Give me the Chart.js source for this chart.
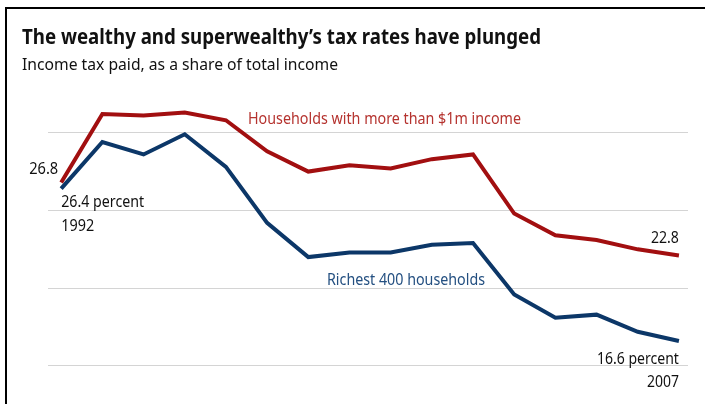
<!DOCTYPE html>
<html>
<head>
<meta charset="utf-8">
<script src="https://cdn.jsdelivr.net/npm/chart.js@4.4.0/dist/chart.umd.min.js"></script>
<style>
  html, body { margin: 0; padding: 0; background: #fff; }
  #wrap { position: relative; width: 705px; height: 404px; }
  #frame { position: absolute; left: 5px; top: 7px; right: 0; bottom: 0;
           border-left: 2.5px solid #000; border-top: 2.5px solid #000; pointer-events: none; }
</style>
</head>
<body>
<div id="wrap">
  <canvas id="c" width="705" height="404"></canvas>
  <div id="frame"></div>
</div>
<script>
// ---- data ----
const years = [1992, 1993, 1994, 1995, 1996, 1997, 1998, 1999, 2000, 2001, 2002, 2003, 2004, 2005, 2006, 2007];
const millionaires = [26.8, 31.2, 31.1, 31.3, 30.8, 28.8, 27.5, 27.9, 27.7, 28.3, 28.6, 24.8, 23.4, 23.1, 22.5, 22.1];
const richest400 = [26.4, 29.4, 28.6, 29.9, 27.8, 24.2, 22.0, 22.3, 22.3, 22.8, 22.9, 19.6, 18.1, 18.3, 17.2, 16.6];
const gridValues = [15, 20, 25, 30];
const titleText = "The wealthy and superwealthy\u2019s tax rates have plunged";
const subtitleText = "Income tax paid, as a share of total income";
const seriesNames = ["Households with more than $1m income", "Richest 400 households"];
const endLabels = { redStart: "26.8", blueStart: "26.4 percent", startYear: "1992", redEnd: "22.8", blueEnd: "16.6 percent", endYear: "2007" };

const RED = '#a20f10';
const BLUE = '#0c3768';
const RED_TEXT = '#b5332f';
const BLUE_TEXT = '#234f80';
const FONT = '"Noto Sans", "Open Sans", sans-serif';

function drawFit(ctx, text, x, y, font, width, align, color) {
  ctx.save();
  ctx.font = font;
  ctx.fillStyle = color;
  ctx.textBaseline = 'alphabetic';
  ctx.textAlign = 'left';
  const w = ctx.measureText(text).width;
  const s = width / w;
  const left = align === 'right' ? x - width : x;
  ctx.translate(left, y);
  ctx.scale(s, 1);
  ctx.fillText(text, 0, 0);
  ctx.restore();
}

const textPlugin = {
  id: 'texts',
  afterDraw(chart) {
    const ctx = chart.ctx;
    const xs = chart.scales.x, ys = chart.scales.y;
    drawFit(ctx, titleText, 22, 43.5, 'bold 22px ' + FONT, 519, 'left', '#111');
    drawFit(ctx, subtitleText, 22, 69.5, '15.5px ' + FONT, 316, 'left', '#111');

    const x0 = xs.getPixelForValue(years[0]);
    const xN = xs.getPixelForValue(years[years.length - 1]);
    drawFit(ctx, endLabels.redStart, x0 - 3, 174.3, '16px ' + FONT, 29, 'right', '#111');
    drawFit(ctx, endLabels.blueStart, x0, 207, '16px ' + FONT, 83, 'left', '#111');
    drawFit(ctx, endLabels.startYear, x0, 230.5, '16px ' + FONT, 33, 'left', '#111');

    drawFit(ctx, seriesNames[0], 248, 123.5, '16px ' + FONT, 273, 'left', RED_TEXT);
    drawFit(ctx, seriesNames[1], 327, 285, '16px ' + FONT, 158, 'left', BLUE_TEXT);

    drawFit(ctx, endLabels.redEnd, xN, 242.5, '16px ' + FONT, 28, 'right', '#111');
    drawFit(ctx, endLabels.blueEnd, xN, 364.3, '16px ' + FONT, 82, 'right', '#111');
    drawFit(ctx, endLabels.endYear, xN, 386.7, '16px ' + FONT, 32, 'right', '#111');
  }
};

new Chart(document.getElementById('c'), {
  type: 'line',
  data: {
    datasets: [
      { label: seriesNames[0], data: years.map((y, i) => ({ x: y, y: millionaires[i] })),
        borderColor: RED, borderWidth: 4, pointRadius: 0, tension: 0, borderJoinStyle: 'miter', borderCapStyle: 'butt' },
      { label: seriesNames[1], data: years.map((y, i) => ({ x: y, y: richest400[i] })),
        borderColor: BLUE, borderWidth: 4, pointRadius: 0, tension: 0, borderJoinStyle: 'miter', borderCapStyle: 'butt' }
    ]
  },
  options: {
    responsive: false,
    animation: false,
    devicePixelRatio: 1,
    layout: { padding: { left: 48, right: 17, top: 98.5, bottom: 22.5 } },
    plugins: { legend: { display: false }, tooltip: { enabled: false }, title: { display: false } },
    scales: {
      x: { type: 'linear', min: 1991.68, max: 2007.22, display: false },
      y: {
        type: 'linear', min: 14, max: 32.2, display: true,
        afterBuildTicks: (axis) => { axis.ticks = gridValues.map(v => ({ value: v })); },
        ticks: { display: false },
        border: { display: false },
        grid: { color: '#d4d4d4', lineWidth: 1, drawTicks: false }
      }
    }
  },
  plugins: [textPlugin]
});
</script>
</body>
</html>
